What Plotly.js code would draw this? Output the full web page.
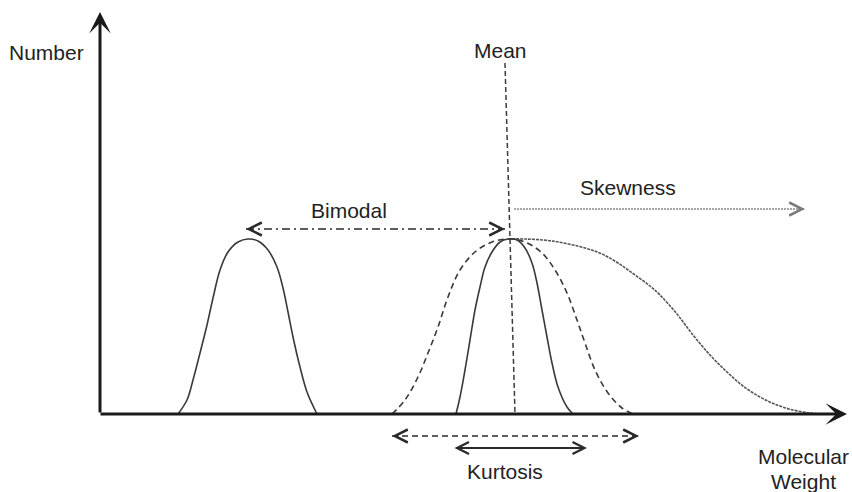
<!DOCTYPE html>
<html>
<head>
<meta charset="utf-8">
<script src="https://cdn.plot.ly/plotly-3.0.1.min.js"></script>
<style>
  html, body { margin: 0; padding: 0; background: #fff; }
  #chart { width: 852px; height: 492px; }
</style>
</head>
<body>
<div id="chart"></div>
<script>
'use strict';

// x: molecular weight axis (px from left), y: number (px above the x axis)
const lowPeakX = [178, 187, 193, 200, 207, 213, 220, 228, 238, 248, 258, 268, 277, 283, 288, 293, 300, 307, 317];
const lowPeakY = [0, 14, 34, 61, 89, 116, 144, 162, 172, 175, 173, 164, 147, 126, 102, 77, 47, 22, 0];

const narrowPeakX = [456, 460, 465, 470, 475, 480, 485, 492, 500, 508, 517, 525, 532, 537, 542, 547, 552, 558, 567, 573];
const narrowPeakY = [0, 17, 44, 74, 104, 127, 147, 162, 172, 175, 174, 166, 151, 131, 104, 77, 51, 27, 7, 0];

const widePeakX = [392, 405, 418, 428, 438, 448, 460, 475, 492, 508, 525, 542, 555, 567, 577, 585, 595, 608, 622, 633];
const widePeakY = [0, 14, 37, 61, 87, 117, 144, 162, 172, 175, 172, 161, 144, 121, 94, 71, 44, 21, 6, 0];

const skewTailX = [508, 525, 552, 585, 602, 618, 635, 650, 660, 677, 693, 710, 727, 743, 760, 777, 793, 810, 822];
const skewTailY = [175, 175, 173, 166, 160, 151, 139, 128, 119, 100, 79, 59, 42, 28, 17, 9, 4, 1, 0];

const meanX = [505, 515];
const meanY = [351, 0];

const bimodalX = [246, 505];
const bimodalY = [185, 185];
const skewArrowX = [514, 805];
const skewArrowY = [205, 205];
const kurtWideX = [392, 639];
const kurtWideY = [-22, -22];
const kurtNarrowX = [453, 587];
const kurtNarrowY = [-34, -34];

const xAxisX = [99, 847];
const xAxisY = [0, 0];
const yAxisX = [100, 100];
const yAxisY = [0, 402];

const labelText = ['Number', 'Mean', 'Bimodal', 'Skewness', 'Kurtosis', 'Molecular', 'Weight'];
const labelX = [46, 500, 349, 628, 505, 803, 803];
const labelY = [362, 364, 204, 227, -57, -42, -67];

const ink = '#2a2a2a';

function line(x, y, style) {
    return Object.assign({ x: x, y: y, type: 'scatter', mode: 'lines', hoverinfo: 'none' }, style);
}

const data = [
    line(lowPeakX, lowPeakY, { line: { color: '#3a3a3a', width: 1.6, shape: 'spline', smoothing: 1 } }),
    line(widePeakX, widePeakY, { line: { color: '#3a3a3a', width: 1.6, dash: '6px,4px', shape: 'spline', smoothing: 1 } }),
    line(skewTailX, skewTailY, { line: { color: '#555', width: 1.6, dash: '3px,1px', shape: 'spline', smoothing: 1 } }),
    line(narrowPeakX, narrowPeakY, { line: { color: '#3a3a3a', width: 1.6, shape: 'spline', smoothing: 1 } }),
    line(meanX, meanY, { line: { color: '#3a3a3a', width: 1.5, dash: '5px,3px' } }),
    line(bimodalX, bimodalY, { line: { color: ink, width: 1.5, dash: '8px,4px,2px,4px' } }),
    line(skewArrowX, skewArrowY, { line: { color: '#8a8a8a', width: 1.5, dash: '2px,1px' } }),
    line(kurtWideX, kurtWideY, { line: { color: ink, width: 1.5, dash: '6px,4px' } }),
];

// arrow head only, pointing along dir (+1 right, -1 left)
function head(x, y, dir, color) {
    return {
        x: x, y: y, ax: x - dir * 6, ay: y,
        xref: 'x', yref: 'y', axref: 'x', ayref: 'y',
        text: '', showarrow: true, borderpad: 0, font: { size: 1 },
        arrowhead: 5, arrowsize: 1.7, arrowwidth: 1.5, arrowcolor: color,
    };
}

function arrow(xs, ys, opts) {
    return Object.assign({
        x: xs[1], y: ys[1], ax: xs[0], ay: ys[0],
        xref: 'x', yref: 'y', axref: 'x', ayref: 'y',
        text: '', showarrow: true,
    }, opts);
}

const annotations = [
    arrow(xAxisX, xAxisY, { arrowhead: 3, arrowsize: 1.2, arrowwidth: 3, arrowcolor: '#1a1a1a' }),
    arrow(yAxisX, yAxisY, { arrowhead: 3, arrowsize: 1.2, arrowwidth: 3, arrowcolor: '#1a1a1a' }),
    arrow(kurtNarrowX, kurtNarrowY, {
        arrowside: 'end+start', arrowhead: 5, startarrowhead: 5,
        arrowsize: 1.3, startarrowsize: 1.3, arrowwidth: 1.8, arrowcolor: ink,
    }),
    head(bimodalX[0], bimodalY[0], -1, ink),
    head(bimodalX[1], bimodalY[1], 1, ink),
    head(skewArrowX[1], skewArrowY[1], 1, '#7a7a7a'),
    head(kurtWideX[0], kurtWideY[0], -1, ink),
    head(kurtWideX[1], kurtWideY[1], 1, ink),
];

labelText.forEach((t, i) => {
    annotations.push({
        x: labelX[i], y: labelY[i], xref: 'x', yref: 'y',
        text: t, showarrow: false,
        xanchor: 'center', yanchor: 'middle',
        font: { family: 'Liberation Sans, Arial, sans-serif', size: 21, color: '#222' },
    });
});

const layout = {
    width: 852,
    height: 492,
    margin: { l: 0, r: 0, t: 0, b: 0 },
    paper_bgcolor: '#fff',
    plot_bgcolor: '#fff',
    showlegend: false,
    xaxis: { range: [0, 852], visible: false, fixedrange: true },
    yaxis: { range: [-78, 414], visible: false, fixedrange: true },
    annotations: annotations,
};

Plotly.newPlot('chart', data, layout, { staticPlot: true });
</script>
</body>
</html>
